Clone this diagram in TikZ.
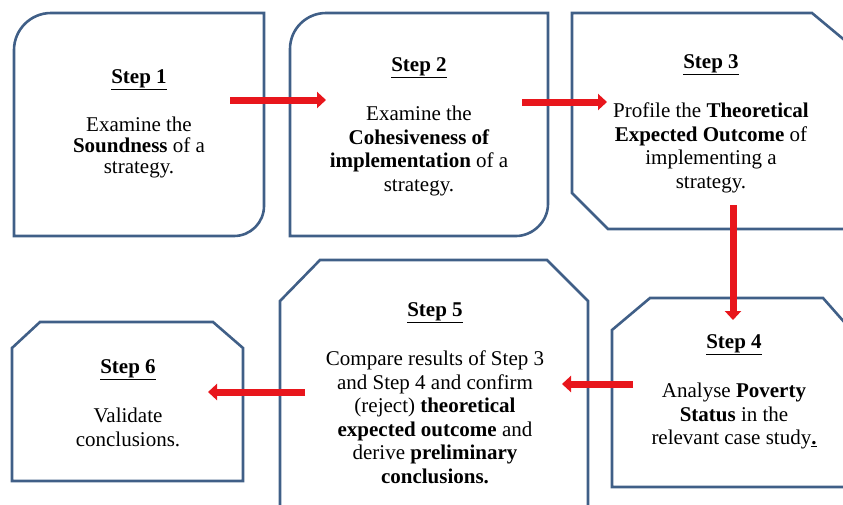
\documentclass[tikz,border=0pt]{standalone}
\usepackage{fontspec}
\setmainfont{Liberation Serif}
\tikzset{>=latex}
\usetikzlibrary{arrows.meta}
\definecolor{boxblue}{RGB}{64,95,135}
\definecolor{arrowred}{RGB}{232,22,28}
\newcommand{\stephead}[1]{\underline{\textbf{Step #1}}\\[26pt]}

\begin{document}
\begin{tikzpicture}[x=1pt, y=-1pt]
\tikzset{every node/.style={align=center, inner sep=0pt, anchor=north, font=\fontsize{21}{23.5}\selectfont},
boxline/.style={draw=boxblue, line width=2.6pt},
flow/.style={draw=arrowred, line width=7pt, -{Triangle[length=9pt,width=16pt]}}}
\useasboundingbox (0,0) rectangle (843,504);
\clip (0,0) rectangle (843,504);
% boxes
\path[boxline] (14,236) -- (14,50) .. controls (14,29.6) and (30.6,13) .. (51,13) -- (264,13) -- (264,206) .. controls (264,222.6) and (250.6,236) .. (234,236) -- cycle;
\path[boxline] (290,236) -- (290,49) .. controls (290,28.6) and (306.6,13) .. (326,13) -- (548,13) -- (548,204) .. controls (548,221.7) and (532.7,236) .. (516,236) -- cycle;
\path[boxline] (572,193) -- (572,13) -- (812,13) -- (860,53) -- (860,229) -- (608,229) -- cycle;
\path[boxline] (612,487) -- (612,330) -- (650,298) -- (823,298) -- (860,340) -- (860,487) -- cycle;
\path[boxline] (280,515) -- (280,301) -- (320,260) -- (547,260) -- (588,301) -- (588,515) -- cycle;
\path[boxline] (12,481) -- (12,348) -- (40,322) -- (213,322) -- (243,348) -- (243,481) -- cycle;
% texts
\node[font=\fontsize{21}{21}\selectfont] (s1) at (139,69) {\stephead{1}Examine the\\ \textbf{Soundness} of a\\ strategy.};
\node (s2) at (419,57) {\stephead{2}Examine the\\ \textbf{Cohesiveness of}\\ \textbf{implementation} of a\\ strategy.};
\node (s3) at (711,54) {\stephead{3}Profile the \textbf{Theoretical}\\ \textbf{Expected Outcome} of\\ implementing a\\ strategy.};
\node (s4) at (734,334) {\stephead{4}Analyse \textbf{Poverty}\\ \textbf{Status} in the\\ relevant case study\textbf{\underline{.}}};
\node (s5) at (435,302) {\stephead{5}Compare results of Step 3\\ and Step 4 and confirm\\ (reject) \textbf{theoretical}\\ \textbf{expected outcome} and\\ derive \textbf{preliminary}\\ \textbf{conclusions.}};
\node (s6) at (128,359) {\stephead{6}Validate\\ conclusions.};
% arrows
\coordinate (a12s) at (230,100);
\coordinate (a12e) at (326,100);
\coordinate (a23s) at (522,102);
\coordinate (a23e) at (607,102);
\coordinate (a34s) at (733,205);
\coordinate (a34e) at (733,320);
\coordinate (a45s) at (633,384);
\coordinate (a45e) at (562,384);
\coordinate (a56s) at (305,392);
\coordinate (a56e) at (208,392);
\draw[flow] (a12s) -- (a12e);
\draw[flow] (a23s) -- (a23e);
\draw[flow] (a34s) -- (a34e);
\draw[flow] (a45s) -- (a45e);
\draw[flow] (a56s) -- (a56e);
\end{tikzpicture}
\end{document}
